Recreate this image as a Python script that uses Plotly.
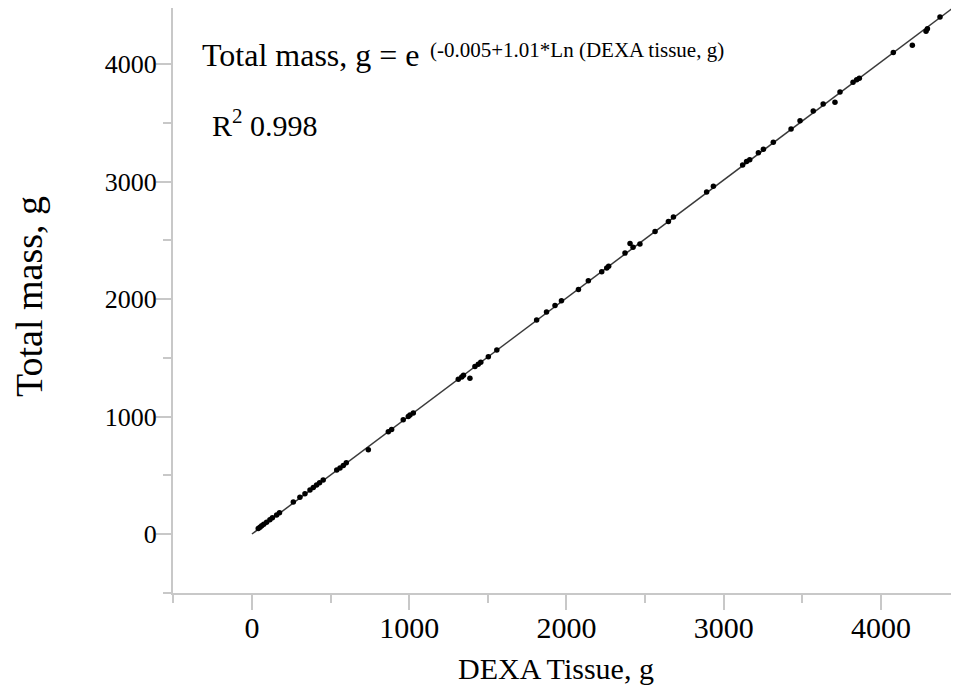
import numpy as np
import plotly.graph_objects as go

# DEXA tissue (g) and total mass (g)
dexa_tissue = [40, 51, 62, 75, 93, 114, 130, 157, 175, 263, 305, 337, 369, 390, 411,
               430, 453, 539, 560, 581, 600, 740, 867, 888, 962, 994, 1005, 1026, 1312,
               1334, 1345, 1386, 1418, 1439, 1455, 1503, 1557, 1810, 1873, 1927, 1968,
               2076, 2139, 2224, 2256, 2268, 2372, 2404, 2423, 2467, 2563, 2648, 2680,
               2891, 2934, 3120, 3145, 3165, 3220, 3252, 3315, 3428, 3485, 3569, 3632,
               3707, 3739, 3822, 3845, 3862, 4078, 4199, 4286, 4295, 4375]
total_mass = [48, 58, 70, 84, 100, 122, 138, 162, 182, 272, 314, 343, 374, 396, 418,
              436, 460, 545, 562, 583, 606, 718, 871, 890, 972, 1000, 1012, 1031, 1318,
              1337, 1352, 1325, 1426, 1444, 1462, 1509, 1566, 1822, 1890, 1945, 1985,
              2082, 2155, 2232, 2265, 2279, 2391, 2472, 2440, 2468, 2575, 2660, 2698,
              2910, 2960, 3140, 3170, 3186, 3245, 3275, 3334, 3447, 3517, 3600, 3660,
              3675, 3762, 3845, 3866, 3880, 4099, 4160, 4280, 4300, 4400]

x_range = [-502, 4483]
y_range = [-502, 4477]
tick_vals = [0, 1000, 2000, 3000, 4000]
tick_text = ["0", "1000", "2000", "3000", "4000"]

# fitted line through origin (least squares)
xa = np.array(dexa_tissue, dtype=float)
ya = np.array(total_mass, dtype=float)
slope = float((xa * ya).sum() / (xa * xa).sum())
line_x = np.array([0.0, 4600.0])
line_y = slope * line_x

fig = go.Figure()
fig.add_trace(go.Scatter(x=line_x, y=line_y, mode="lines",
                         line=dict(color="#3a3a3a", width=1.5),
                         hoverinfo="skip", showlegend=False))
fig.add_trace(go.Scatter(x=dexa_tissue, y=total_mass, mode="markers",
                         marker=dict(color="black", size=5.5),
                         showlegend=False))

axis_col = "#c8c8c8"
serif = "Liberation Serif"
common = dict(showline=True, linecolor=axis_col, linewidth=2, mirror=True,
              ticks="outside", ticklen=15, tickwidth=2, tickcolor=axis_col,
              showgrid=False, zeroline=False, automargin=False,
              minor=dict(dtick=500, tick0=0, ticks="outside", ticklen=8,
                         tickwidth=2, tickcolor=axis_col, showgrid=False))

# plot area in page pixels: x 173..957, y 8..593 (page has an 8px body margin)
def px_x(p):
    return (p - 173) / 784.0

def px_y(p):
    return (593 - p) / 585.0

fig.update_layout(
    width=959, height=692,
    margin=dict(l=165, r=10, t=0, b=107),
    paper_bgcolor="white", plot_bgcolor="white",
    font=dict(family=serif, color="black"),
    xaxis=dict(range=x_range, tickvals=tick_vals, ticktext=tick_text,
               tickfont=dict(family=serif, size=30, color="black"),
               ticklabelstandoff=-8,
               **common),
    yaxis=dict(range=y_range, tickvals=tick_vals, ticktext=tick_text,
               tickfont=dict(family=serif, size=26, color="black"),
               ticklabelstandoff=-6,
               **common),
    annotations=[
        dict(text="DEXA Tissue, g", xref="paper", yref="paper",
             x=px_x(556), y=px_y(668), xanchor="center", yanchor="middle",
             showarrow=False, font=dict(family=serif, size=30, color="black")),
        dict(text="Total mass, g", xref="paper", yref="paper", textangle=-90,
             x=px_x(29), y=px_y(297), xanchor="center", yanchor="middle",
             showarrow=False, font=dict(family=serif, size=38, color="black")),
        dict(text="Total mass, g = e",
             xref="paper", yref="paper", x=px_x(200), y=px_y(55),
             xanchor="left", yanchor="middle", showarrow=False,
             font=dict(family=serif, size=32, color="black")),
        dict(text="(-0.005+1.01*Ln (DEXA tissue, g)",
             xref="paper", yref="paper", x=px_x(428), y=px_y(50),
             xanchor="left", yanchor="middle", showarrow=False,
             font=dict(family=serif, size=21, color="black")),
        dict(text="R<sup>2</sup> 0.998",
             xref="paper", yref="paper", x=px_x(210), y=px_y(123),
             xanchor="left", yanchor="middle", showarrow=False,
             font=dict(family=serif, size=30, color="black")),
    ],
)

fig.write_html("out.html")
